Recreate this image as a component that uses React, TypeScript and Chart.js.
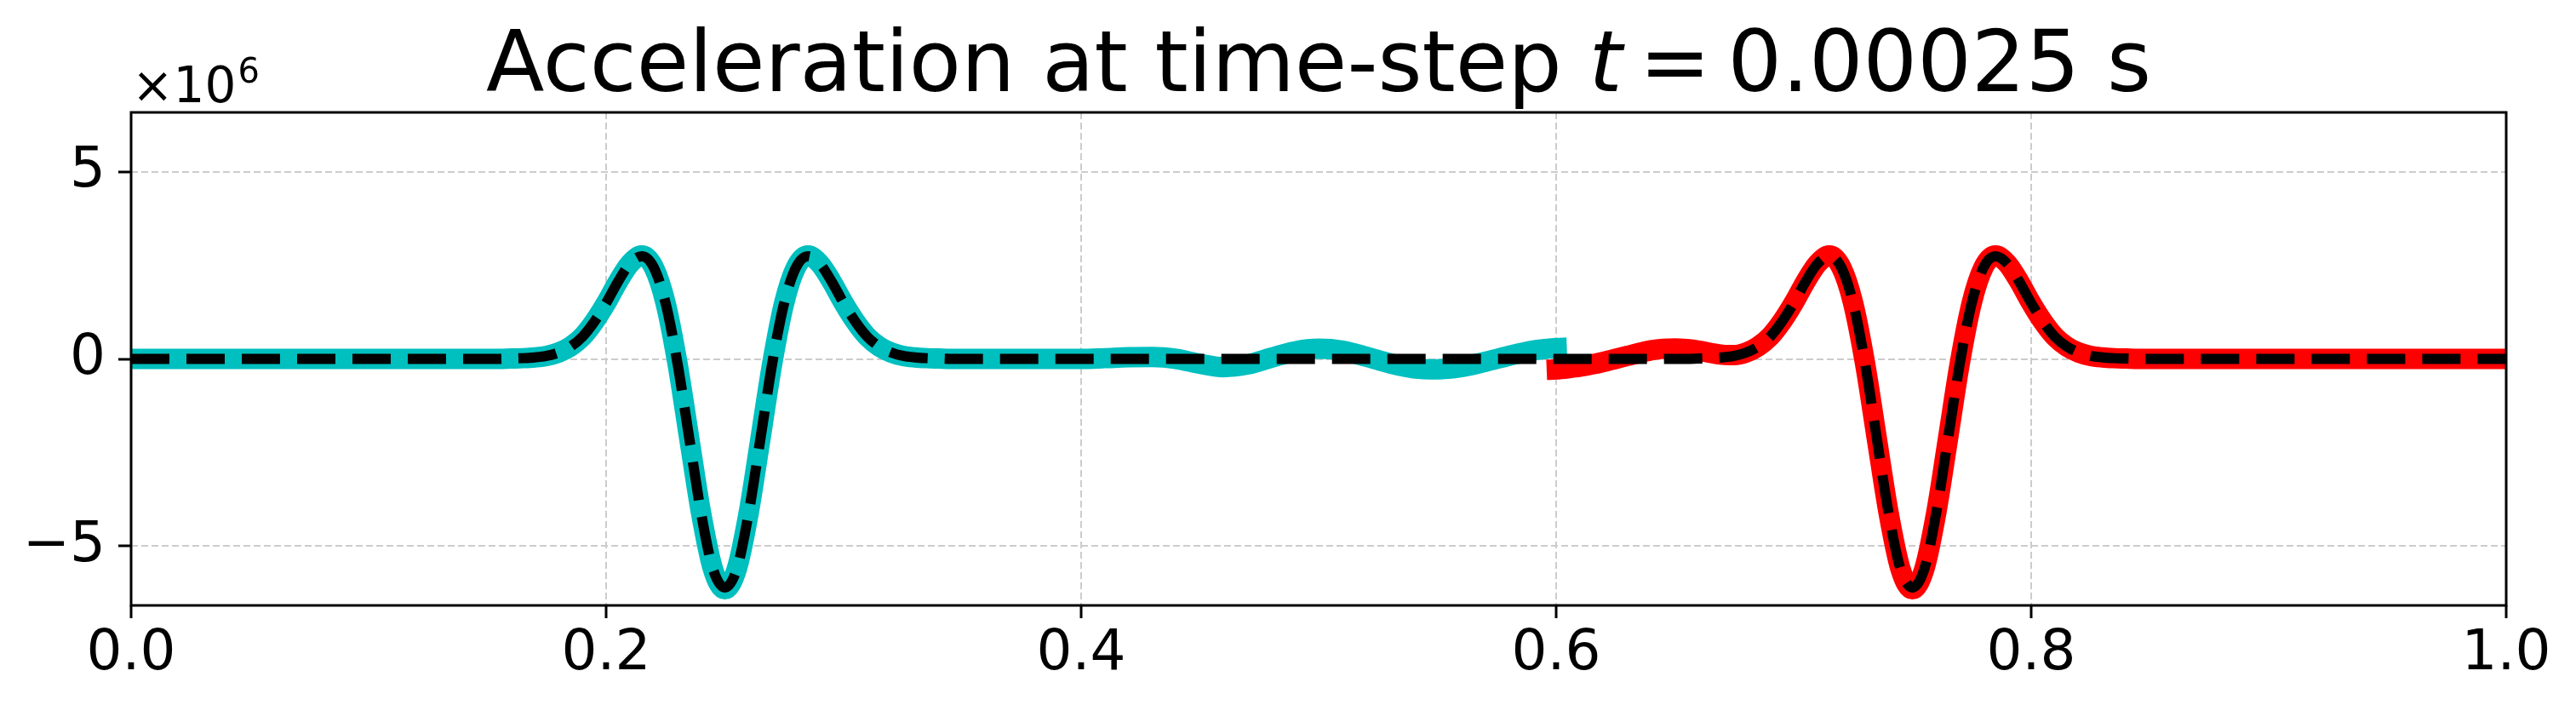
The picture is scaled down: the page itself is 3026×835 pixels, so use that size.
import React, { useEffect, useRef } from 'react';
import { Chart, registerables } from 'chart.js';

Chart.register(...registerables);

const FONT = '"DejaVu Sans", "Liberation Sans", sans-serif';

// Title pieces (the "t" is italic, as in matplotlib mathtext)
const titleParts = [
  { text: 'Acceleration at time-step ', italic: false, gap: 0 },
  { text: 't', italic: true, gap: 20 },
  { text: '=', italic: false, gap: 20 },
  { text: '0.00025', italic: false, gap: 0 },
  { text: ' s', italic: false, gap: 0 },
];
const offsetBase = '×10';
const offsetExp = '6';

const xTicks = [0, 0.2, 0.4, 0.6, 0.8, 1.0];
const xTickLabels = ['0.0', '0.2', '0.4', '0.6', '0.8', '1.0'];
const yTicks = [-5, 0, 5];
const yTickLabels = ['−5', '0', '5'];
const yMin = -6.58;
const yMax = 6.58;

// Numerical solution, left sub-domain (cyan), values ×10^6
const cyanX = [
  0, 0.155, 0.16, 0.165, 0.17, 0.175, 0.18, 0.185, 0.19, 0.195, 0.2, 0.205, 0.21, 0.215, 0.22,
  0.225, 0.23, 0.235, 0.24, 0.245, 0.25, 0.255, 0.26, 0.265, 0.27, 0.275, 0.28, 0.285, 0.29,
  0.295, 0.3, 0.305, 0.31, 0.315, 0.32, 0.325, 0.33, 0.335, 0.34, 0.345, 0.4, 0.41, 0.42, 0.43,
  0.44, 0.45, 0.46, 0.47, 0.48, 0.49, 0.5, 0.51, 0.52, 0.53, 0.54, 0.55, 0.56, 0.57, 0.58, 0.59,
  0.6, 0.6045,
];
const cyanY = [
  0, 0, 0.01, 0.02, 0.04, 0.08, 0.17, 0.33, 0.59, 0.99, 1.49, 2.06, 2.54, 2.76, 2.45,
  1.5, -0.1, -2.12, -4.12, -5.61, -6.15, -5.61, -4.12, -2.12, -0.1, 1.5, 2.45, 2.76, 2.54,
  2.06, 1.49, 0.99, 0.59, 0.33, 0.17, 0.08, 0.04, 0.02, 0.01, 0, 0, 0.02, 0.045, 0.05,
  0.0, -0.13, -0.22, -0.15, 0.03, 0.2, 0.27, 0.22, 0.06, -0.12, -0.25, -0.28, -0.22, -0.08, 0.08, 0.22,
  0.29, 0.3,
];

// Numerical solution, right sub-domain (red), values ×10^6
const redX = [
  0.596, 0.6, 0.605, 0.61, 0.615, 0.62, 0.625, 0.63, 0.635, 0.64, 0.645, 0.65, 0.655, 0.66,
  0.665, 0.67, 0.675, 0.68, 0.685, 0.69, 0.695, 0.7, 0.705, 0.71, 0.715, 0.72, 0.725, 0.73,
  0.735, 0.74, 0.745, 0.75, 0.755, 0.76, 0.765, 0.77, 0.775, 0.78, 0.785, 0.79, 0.795, 0.8,
  0.805, 0.81, 0.815, 0.82, 0.825, 0.83, 0.835, 0.84, 0.845, 1.0,
];
const redY = [
  -0.29, -0.28, -0.25, -0.21, -0.15, -0.08, 0.0, 0.08, 0.16, 0.23, 0.27, 0.28, 0.26, 0.22,
  0.16, 0.11, 0.1, 0.17, 0.33, 0.59, 0.99, 1.49, 2.06, 2.54, 2.76, 2.45, 1.5, -0.1,
  -2.12, -4.12, -5.61, -6.15, -5.61, -4.12, -2.12, -0.1, 1.5, 2.45, 2.76, 2.54, 2.06, 1.49,
  0.99, 0.59, 0.33, 0.17, 0.08, 0.04, 0.02, 0.01, 0, 0,
];

// Exact solution (black dashed), values ×10^6
const exactX = [
  0, 0.155, 0.16, 0.165, 0.17, 0.175, 0.18, 0.185, 0.19, 0.195, 0.2, 0.205, 0.21, 0.215, 0.22,
  0.225, 0.23, 0.235, 0.24, 0.245, 0.25, 0.255, 0.26, 0.265, 0.27, 0.275, 0.28, 0.285, 0.29,
  0.295, 0.3, 0.305, 0.31, 0.315, 0.32, 0.325, 0.33, 0.335, 0.34, 0.345, 0.655, 0.66, 0.665,
  0.67, 0.675, 0.68, 0.685, 0.69, 0.695, 0.7, 0.705, 0.71, 0.715, 0.72, 0.725, 0.73, 0.735,
  0.74, 0.745, 0.75, 0.755, 0.76, 0.765, 0.77, 0.775, 0.78, 0.785, 0.79, 0.795, 0.8, 0.805,
  0.81, 0.815, 0.82, 0.825, 0.83, 0.835, 0.84, 0.845, 1.0,
];
const exactY = [
  0, 0, 0.01, 0.02, 0.04, 0.08, 0.17, 0.33, 0.59, 0.99, 1.49, 2.06, 2.54, 2.74, 2.45,
  1.5, -0.1, -2.12, -4.12, -5.61, -6.1, -5.61, -4.12, -2.12, -0.1, 1.5, 2.45, 2.74, 2.54,
  2.06, 1.49, 0.99, 0.59, 0.33, 0.17, 0.08, 0.04, 0.02, 0.01, 0, 0, 0.01, 0.02,
  0.04, 0.08, 0.17, 0.33, 0.59, 0.99, 1.49, 2.06, 2.54, 2.74, 2.45, 1.5, -0.1, -2.12,
  -4.12, -5.61, -6.1, -5.61, -4.12, -2.12, -0.1, 1.5, 2.45, 2.74, 2.54, 2.06, 1.49, 0.99,
  0.59, 0.33, 0.17, 0.08, 0.04, 0.02, 0.01, 0, 0,
];

const toPoints = (xs: number[], ys: number[]) => xs.map((x, i) => ({ x, y: ys[i] }));

export default function App() {
  const ref = useRef<HTMLCanvasElement>(null);

  useEffect(() => {
    document.body.style.margin = '0';
    const canvas = ref.current;
    if (!canvas) return;

    const overlay = {
      id: 'overlay',
      afterDraw(chart: any) {
        const { ctx, chartArea: a } = chart;
        ctx.save();
        // axes box
        ctx.strokeStyle = '#000';
        ctx.lineWidth = 3;
        ctx.setLineDash([]);
        ctx.strokeRect(a.left, a.top, a.right - a.left, a.bottom - a.top);

        // title
        ctx.fillStyle = '#000';
        ctx.textBaseline = 'alphabetic';
        ctx.textAlign = 'left';
        const fonts = titleParts.map((p) => `${p.italic ? 'oblique ' : ''}100px ${FONT}`);
        const widths = titleParts.map((p, i) => {
          ctx.font = fonts[i];
          return ctx.measureText(p.text).width + p.gap;
        });
        const total = widths.reduce((s, w) => s + w, 0);
        let x = (a.left + a.right) / 2 - total / 2;
        titleParts.forEach((p, i) => {
          ctx.font = fonts[i];
          ctx.fillText(p.text, x, 107);
          x += widths[i];
        });

        // offset text ×10^6
        ctx.font = `58px ${FONT}`;
        ctx.fillText(offsetBase, 155, 120);
        const bw = ctx.measureText(offsetBase).width;
        ctx.font = `40px ${FONT}`;
        ctx.fillText(offsetExp, 155 + bw + 2, 97);
        ctx.restore();
      },
    };

    const chart = new Chart(canvas, {
      type: 'line',
      data: {
        datasets: [
          {
            label: 'exact',
            data: toPoints(exactX, exactY),
            borderColor: '#000000',
            borderWidth: 12,
            borderDash: [45, 20],
            borderCapStyle: 'butt',
            borderJoinStyle: 'round',
            pointRadius: 0,
            cubicInterpolationMode: 'monotone',
            fill: false,
            clip: 0,
            order: 0,
          },
          {
            label: 'right',
            data: toPoints(redX, redY),
            borderColor: '#ff0000',
            borderWidth: 24,
            borderCapStyle: 'butt',
            borderJoinStyle: 'round',
            pointRadius: 0,
            cubicInterpolationMode: 'monotone',
            fill: false,
            clip: 0,
            order: 1,
          },
          {
            label: 'left',
            data: toPoints(cyanX, cyanY),
            borderColor: '#00bfbf',
            borderWidth: 24,
            borderCapStyle: 'butt',
            borderJoinStyle: 'round',
            pointRadius: 0,
            cubicInterpolationMode: 'monotone',
            fill: false,
            clip: 0,
            order: 2,
          },
        ] as any,
      },
      options: {
        responsive: false,
        animation: false,
        devicePixelRatio: 1,
        layout: { padding: { top: 132, right: 82, bottom: 0, left: 0 } },
        plugins: {
          legend: { display: false },
          tooltip: { enabled: false },
          title: { display: false },
        },
        scales: {
          x: {
            type: 'linear',
            min: 0,
            max: 1,
            afterBuildTicks: (s: any) => {
              s.ticks = xTicks.map((v) => ({ value: v }));
            },
            afterFit: (s: any) => {
              s.height = 124;
            },
            ticks: {
              callback: (_v: any, i: number) => xTickLabels[i],
              font: { family: FONT, size: 66 },
              color: '#000',
              padding: 3,
              maxRotation: 0,
              autoSkip: false,
            },
            grid: {
              color: '#cccccc',
              lineWidth: 2,
              drawTicks: true,
              tickLength: 15,
              tickWidth: 3,
              tickColor: '#000',
              tickBorderDash: [],
            },
            border: { display: false, dash: [8, 4] },
          },
          y: {
            type: 'linear',
            min: yMin,
            max: yMax,
            afterBuildTicks: (s: any) => {
              s.ticks = yTicks.map((v) => ({ value: v }));
            },
            afterFit: (s: any) => {
              s.width = 154;
            },
            ticks: {
              callback: (_v: any, i: number) => yTickLabels[i],
              font: { family: FONT, size: 66 },
              color: '#000',
              padding: 15,
              autoSkip: false,
            },
            grid: {
              color: '#cccccc',
              lineWidth: 2,
              drawTicks: true,
              tickLength: 15,
              tickWidth: 3,
              tickColor: '#000',
              tickBorderDash: [],
            },
            border: { display: false, dash: [8, 4] },
          },
        },
      } as any,
      plugins: [overlay],
    });

    return () => chart.destroy();
  }, []);

  return (
    <div style={{ position: 'fixed', left: 0, top: 0, width: 3026, height: 835, background: '#fff' }}>
      <canvas ref={ref} width={3026} height={835} style={{ display: 'block', width: 3026, height: 835 }} />
    </div>
  );
}
